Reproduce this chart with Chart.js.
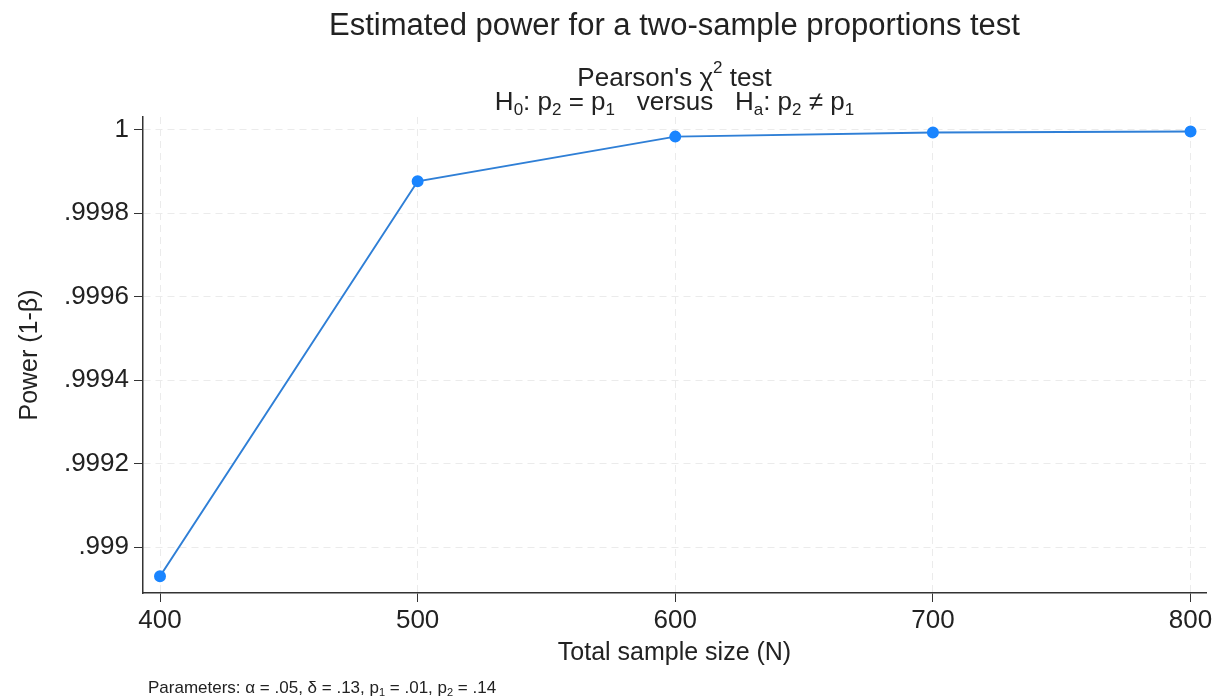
<!DOCTYPE html>
<html>
<head>
<meta charset="utf-8">
<script src="https://cdn.jsdelivr.net/npm/chart.js@4"></script>
<style>
  html, body { margin: 0; background: #fff; }
</style>
</head>
<body>
<canvas id="grafico" width="1221" height="699"></canvas>
<script>
// Datos
const sampleSizes = [400, 500, 600, 700, 800];
const power = [0.99893, 0.999876, 0.999983, 0.999993, 0.999995];
const xTicks = [400, 500, 600, 700, 800];
const yTicks = [0.999, 0.9992, 0.9994, 0.9996, 0.9998, 1];
const yTickLabels = ['.999', '.9992', '.9994', '.9996', '.9998', '1'];

const FONT = '"Liberation Sans", Arial, Helvetica, sans-serif';
const TEXT = '#222';

// texto con subíndices / superíndices
function drawRich(ctx, parts, x, y, size, align) {
  const small = Math.round(size * 0.64);
  const widths = parts.map(p => {
    ctx.font = `${p.sub || p.sup ? small : size}px ${FONT}`;
    return ctx.measureText(p.t).width;
  });
  const total = widths.reduce((s, w) => s + w, 0);
  let cx = align === 'left' ? x : x - total / 2;
  ctx.textBaseline = 'alphabetic';
  ctx.textAlign = 'left';
  parts.forEach((p, i) => {
    ctx.font = `${p.sub || p.sup ? small : size}px ${FONT}`;
    let dy = 0;
    if (p.sub) dy = size * 0.2;
    if (p.sup) dy = -size * 0.5;
    ctx.fillText(p.t, cx, y + dy);
    cx += widths[i];
  });
}

const textos = {
  id: 'textos',
  afterDraw(chart) {
    const { ctx, chartArea: a } = chart;
    const cx = (a.left + a.right) / 2;
    ctx.save();
    ctx.fillStyle = TEXT;
    drawRich(ctx, [{ t: 'Estimated power for a two-sample proportions test' }], cx, 35, 31);
    drawRich(ctx, [{ t: "Pearson's χ" }, { t: '2', sup: true }, { t: ' test' }], cx, 86, 26);
    drawRich(ctx, [
      { t: 'H' }, { t: '0', sub: true }, { t: ': p' }, { t: '2', sub: true }, { t: ' = p' }, { t: '1', sub: true },
      { t: '   versus   H' }, { t: 'a', sub: true }, { t: ': p' }, { t: '2', sub: true }, { t: ' ≠ p' }, { t: '1', sub: true }
    ], cx, 110, 26);
    // títulos de ejes
    drawRich(ctx, [{ t: 'Total sample size (N)' }], cx, 660, 25);
    ctx.save();
    ctx.translate(37, (a.top + a.bottom) / 2);
    ctx.rotate(-Math.PI / 2);
    drawRich(ctx, [{ t: 'Power (1-β)' }], 0, 0, 25);
    ctx.restore();
    // nota al pie
    drawRich(ctx, [
      { t: 'Parameters: α = .05, δ = .13, p' }, { t: '1', sub: true }, { t: ' = .01, p' }, { t: '2', sub: true }, { t: ' = .14' }
    ], 148, 693, 17, 'left');
    ctx.restore();
  }
};

new Chart(document.getElementById('grafico').getContext('2d'), {
  type: 'line',
  data: {
    datasets: [{
      data: sampleSizes.map((n, i) => ({ x: n, y: power[i] })),
      borderColor: '#2f7fd6',
      borderWidth: 2,
      pointBackgroundColor: '#1a85ff',
      pointBorderColor: '#1a85ff',
      pointRadius: 5,
      tension: 0
    }]
  },
  options: {
    responsive: false,
    animation: false,
    layout: { padding: { top: 117, right: 15, left: 0, bottom: 0 } },
    plugins: { legend: { display: false }, tooltip: { enabled: false }, title: { display: false } },
    scales: {
      x: {
        type: 'linear',
        min: 393.4,
        max: 806,
        afterBuildTicks: s => { s.ticks = xTicks.map(v => ({ value: v })); },
        afterFit: s => { s.height = 106; },
        ticks: { color: TEXT, font: { family: FONT, size: 26 }, padding: 3, maxRotation: 0 },
        grid: { color: '#ebebeb', tickColor: '#333', tickLength: 9, lineWidth: 1 },
        border: { color: '#333', width: 1.5, dash: [7, 5] }
      },
      y: {
        min: 0.99889,
        max: 1.00003,
        afterBuildTicks: s => { s.ticks = yTicks.map(v => ({ value: v })); },
        afterFit: s => { s.width = 143; },
        ticks: {
          color: TEXT, font: { family: FONT, size: 26 }, padding: 5,
          callback: v => yTickLabels[yTicks.findIndex(t => Math.abs(t - v) < 1e-9)]
        },
        grid: { color: '#ebebeb', tickColor: '#333', tickLength: 9, lineWidth: 1 },
        border: { color: '#333', width: 1.5, dash: [7, 5] }
      }
    }
  },
  plugins: [textos]
});
</script>
</body>
</html>
